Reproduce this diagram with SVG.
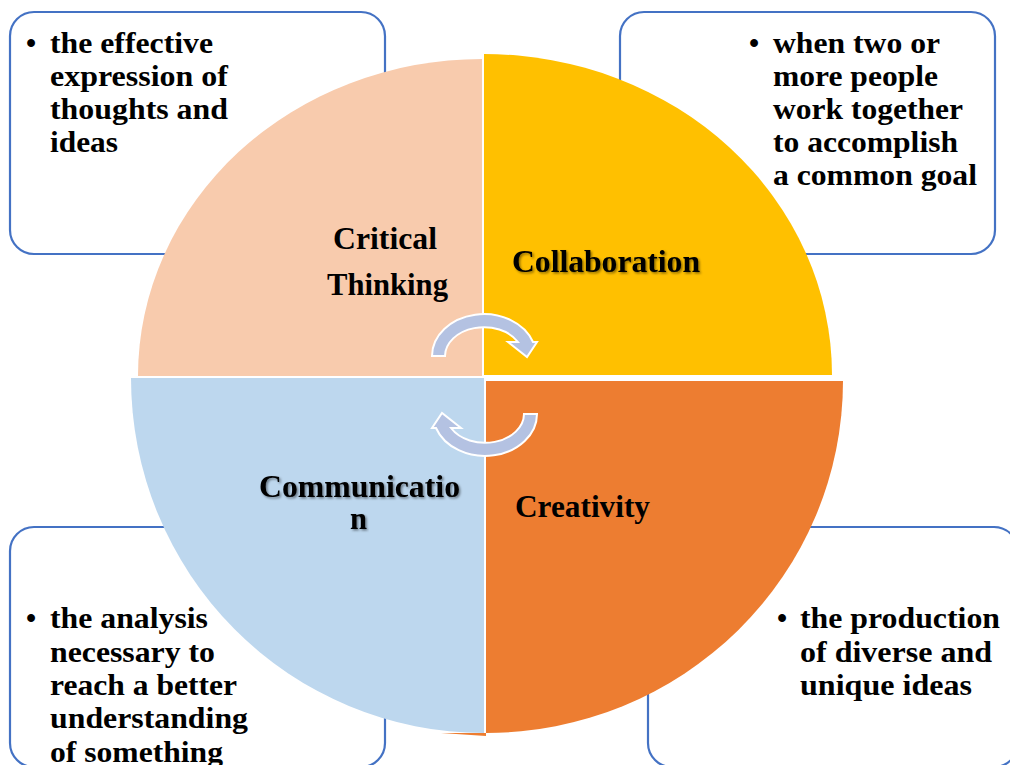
<svg xmlns="http://www.w3.org/2000/svg" width="1010" height="765" viewBox="0 0 1010 765">
<style>
.box{fill:#FFFFFF;stroke:#4472C4;stroke-width:2.2}
.t{font-family:"Liberation Serif","Times New Roman",serif;font-weight:bold;font-size:29px;fill:#000}
.lbl{font-family:"Liberation Serif","Times New Roman",serif;font-weight:bold;font-size:31px;fill:#000}
.arr{fill:#B4C2E2;stroke:#FFFFFF;stroke-width:2;stroke-linejoin:miter}
</style>
<defs>
<filter id="sh" x="-10%" y="-30%" width="120%" height="160%">
<feDropShadow dx="1.5" dy="1.5" stdDeviation="1.2" flood-color="#000" flood-opacity="0.45"/>
</filter>
<path id="carrow" d="M -52,0 A 52 42 0 0 1 49,-14 L 53,-14 L 43,1 L 24,-14 L 34,-14 A 39 29 0 0 0 -39,0 Z"/>
</defs>
<rect width="1010" height="765" fill="#FFFFFF"/>

<g id="box-tl">
<rect class="box" x="10" y="12" width="375" height="242" rx="24"/>
<text class="t" x="26" y="53">•</text>
<text class="t" x="50" y="53" textLength="163" lengthAdjust="spacingAndGlyphs">the effective</text>
<text class="t" x="50" y="86" textLength="178" lengthAdjust="spacingAndGlyphs">expression of</text>
<text class="t" x="50" y="119" textLength="178" lengthAdjust="spacingAndGlyphs">thoughts and</text>
<text class="t" x="50" y="152" textLength="68" lengthAdjust="spacingAndGlyphs">ideas</text>
</g>

<g id="box-tr">
<rect class="box" x="620" y="12" width="375" height="242" rx="24"/>
<text class="t" x="749" y="53">•</text>
<text class="t" x="773" y="53" textLength="167" lengthAdjust="spacingAndGlyphs">when two or</text>
<text class="t" x="773" y="86" textLength="165" lengthAdjust="spacingAndGlyphs">more people</text>
<text class="t" x="773" y="119" textLength="190" lengthAdjust="spacingAndGlyphs">work together</text>
<text class="t" x="773" y="152" textLength="185" lengthAdjust="spacingAndGlyphs">to accomplish</text>
<text class="t" x="773" y="185" textLength="204" lengthAdjust="spacingAndGlyphs">a common goal</text>
</g>

<g id="box-bl">
<rect class="box" x="10" y="527" width="375" height="240" rx="24"/>
</g>

<g id="box-br">
<rect class="box" x="648" y="527" width="370" height="240" rx="24"/>
</g>

<g id="critical-thinking">
<path d="M 482,376 L 138,376 A 344 317 0 0 1 482,59 Z" fill="#F8CBAD"/>
<text class="lbl" x="333" y="249" textLength="104" lengthAdjust="spacingAndGlyphs">Critical</text>
<text class="lbl" x="327" y="295" textLength="121" lengthAdjust="spacingAndGlyphs">Thinking</text>
</g>

<g id="collaboration">
<path d="M 484,375 L 484,54 A 348 321 0 0 1 832,375 Z" fill="#FFC000"/>
<text class="lbl" x="512" y="272" textLength="188" lengthAdjust="spacingAndGlyphs" filter="url(#sh)">Collaboration</text>
</g>

<g id="creativity">
<path d="M 441,733 L 486,733 L 486,736 Z" fill="#ED7D31"/>
<path d="M 486,381 L 843,381 A 357 352 0 0 1 486,733 Z" fill="#ED7D31"/>
<text class="lbl" x="515" y="517" textLength="135" lengthAdjust="spacingAndGlyphs">Creativity</text>
</g>

<g id="communication">
<path d="M 484,378 L 484,733 A 353 355 0 0 1 131,378 Z" fill="#BDD7EE"/>
<text class="lbl" x="259" y="497" textLength="201" lengthAdjust="spacingAndGlyphs" filter="url(#sh)">Communicatio</text>
<text class="lbl" x="350" y="529" textLength="17" lengthAdjust="spacingAndGlyphs" filter="url(#sh)">n</text>
</g>

<g id="box-bl-text">
<text class="t" x="26" y="628">•</text>
<text class="t" x="50" y="628" textLength="158" lengthAdjust="spacingAndGlyphs">the analysis</text>
<text class="t" x="50" y="662" textLength="165" lengthAdjust="spacingAndGlyphs">necessary to</text>
<text class="t" x="50" y="695" textLength="187" lengthAdjust="spacingAndGlyphs">reach a better</text>
<text class="t" x="50" y="728" textLength="198" lengthAdjust="spacingAndGlyphs">understanding</text>
<text class="t" x="50" y="762" textLength="173" lengthAdjust="spacingAndGlyphs">of something</text>
</g>

<g id="box-br-text">
<text class="t" x="777" y="628">•</text>
<text class="t" x="800" y="628" textLength="200" lengthAdjust="spacingAndGlyphs">the production</text>
<text class="t" x="800" y="662" textLength="192" lengthAdjust="spacingAndGlyphs">of diverse and</text>
<text class="t" x="800" y="695" textLength="172" lengthAdjust="spacingAndGlyphs">unique ideas</text>
</g>

<g id="connectors">
<use href="#carrow" class="arr" transform="translate(484,356)"/>
<use href="#carrow" class="arr" transform="translate(485,414) rotate(180)"/>
</g>
</svg>
